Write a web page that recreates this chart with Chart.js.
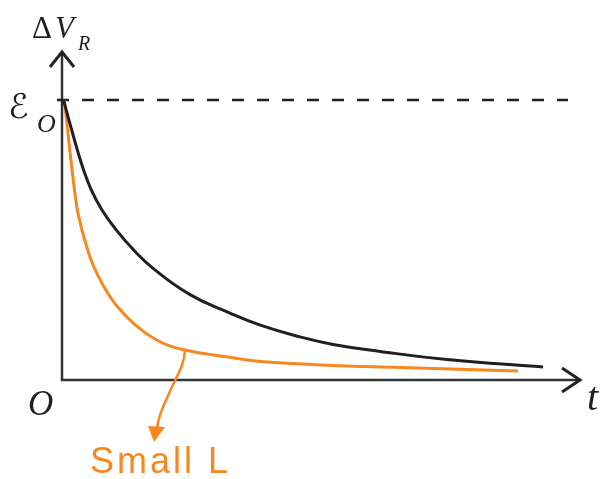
<!DOCTYPE html>
<html><head><meta charset="utf-8">
<script src="https://cdn.jsdelivr.net/npm/chart.js@4.4.0/dist/chart.umd.min.js"></script>
<style>html,body{margin:0;padding:0;background:#fff}</style>
</head><body>
<canvas id="c" width="601" height="479"></canvas>
<script>
// time values (arbitrary units) and voltage as fraction of EMF
const blackT = [0.031, 0.144, 0.26, 0.333, 0.45, 0.61, 0.833, 1.129, 1.494, 1.917, 2.667, 3.5, 4.146, 4.958, 5.646, 6.625, 8.021, 10.02];
const blackV = [1, 0.929, 0.857, 0.814, 0.75, 0.679, 0.607, 0.536, 0.464, 0.396, 0.305, 0.239, 0.195, 0.154, 0.127, 0.102, 0.073, 0.046];
const orangeT = [0.048, 0.106, 0.1625, 0.215, 0.26, 0.333, 0.473, 0.646, 0.89, 1.125, 1.485, 1.973, 2.5625, 3.5, 4.02, 5.646, 7.04, 9.5];
const orangeV = [1, 0.911, 0.821, 0.743, 0.679, 0.596, 0.5, 0.411, 0.328, 0.268, 0.203, 0.143, 0.107, 0.081, 0.068, 0.052, 0.045, 0.032];
const emfLevel = 1;
const annotT = 2.5625, annotV = 0.107;
const labels = { yDelta: "Δ", yVar: "V", ySub: "R", emf: "ℰ", emfSub: "O", origin: "O", x: "t", note: "Small L" };

const BLACK = '#231f20', ORANGE = '#f7871f';
const toPts = (ts, vs) => ts.map((t, i) => ({ x: t, y: vs[i] }));

const decor = {
  id: 'decor',
  beforeDatasetsDraw(chart) {
    const { ctx, chartArea: a, scales: { x, y } } = chart;
    const x0 = x.getPixelForValue(0), y0 = y.getPixelForValue(0);
    ctx.save();
    ctx.strokeStyle = '#333';
    ctx.lineWidth = 2.5;
    ctx.beginPath();
    ctx.moveTo(x0, a.top + 1); ctx.lineTo(x0, y0);
    ctx.lineTo(a.right - 1, y0);
    ctx.stroke();
    ctx.strokeStyle = '#222';
    ctx.lineWidth = 3;
    ctx.beginPath();
    ctx.moveTo(x0 - 12, a.top + 15); ctx.lineTo(x0, a.top); ctx.lineTo(x0 + 12, a.top + 15);
    ctx.moveTo(a.right - 18, y0 - 12); ctx.lineTo(a.right, y0); ctx.lineTo(a.right - 18, y0 + 12);
    ctx.stroke();
    const ye = y.getPixelForValue(emfLevel);
    ctx.setLineDash([12, 13]);
    ctx.lineWidth = 2.5;
    ctx.strokeStyle = BLACK;
    ctx.beginPath();
    ctx.moveTo(x0 - 5, ye); ctx.lineTo(568, ye);
    ctx.stroke();
    ctx.setLineDash([]);
    ctx.restore();
  },
  afterDraw(chart) {
    const { ctx, scales: { x, y } } = chart;
    ctx.save();
    ctx.fillStyle = BLACK;
    ctx.textBaseline = 'alphabetic';
    ctx.font = '31px "Liberation Serif"';
    ctx.fillText(labels.yDelta, 32, 38);
    ctx.font = 'italic 31px "Liberation Serif"';
    ctx.fillText(labels.yVar, 55, 38);
    ctx.font = 'italic 20px "Liberation Serif"';
    ctx.fillText(labels.ySub, 78, 50);
    ctx.font = '34px "DejaVu Serif", "DejaVu Sans"';
    ctx.fillText(labels.emf, 8, 118);
    ctx.font = 'italic 26px "Liberation Serif"';
    ctx.fillText(labels.emfSub, 37, 132);
    ctx.font = 'italic 35px "Liberation Serif"';
    ctx.fillText(labels.origin, 28, 415);
    ctx.font = 'italic 40px "Liberation Serif"';
    ctx.fillText(labels.x, 587, 410);
    // annotation arrow
    const sx = x.getPixelForValue(annotT), sy = y.getPixelForValue(annotV);
    ctx.strokeStyle = ORANGE; ctx.fillStyle = ORANGE;
    ctx.lineWidth = 2.5;
    ctx.beginPath();
    ctx.moveTo(sx, sy);
    ctx.bezierCurveTo(sx - 1, sy + 18, sx - 10, sy + 28, sx - 18, sy + 48);
    ctx.quadraticCurveTo(sx - 26, sy + 64, sx - 28, sy + 78);
    ctx.stroke();
    ctx.beginPath();
    ctx.moveTo(sx - 37, sy + 76); ctx.lineTo(sx - 20, sy + 77); ctx.lineTo(sx - 31, sy + 92);
    ctx.closePath(); ctx.fill();
    ctx.font = '36px "Liberation Sans"';
    ctx.letterSpacing = '3px';
    ctx.fillText(labels.note, 90, 473);
    ctx.restore();
  }
};

new Chart(document.getElementById('c'), {
  type: 'line',
  data: {
    datasets: [
      { data: toPts(blackT, blackV), borderColor: BLACK, borderWidth: 3, pointRadius: 0, tension: 0.45, fill: false, clip: false },
      { data: toPts(orangeT, orangeV), borderColor: ORANGE, borderWidth: 3, pointRadius: 0, tension: 0.45, fill: false, clip: false }
    ]
  },
  options: {
    responsive: false,
    animation: false,
    layout: { padding: { left: 62, top: 52, right: 21, bottom: 99 } },
    plugins: { legend: { display: false }, tooltip: { enabled: false } },
    scales: {
      x: { type: 'linear', min: 0, max: 10.79, display: false },
      y: { type: 'linear', min: 0, max: 1.1714, display: false }
    }
  },
  plugins: [decor]
});
</script>
</body></html>
